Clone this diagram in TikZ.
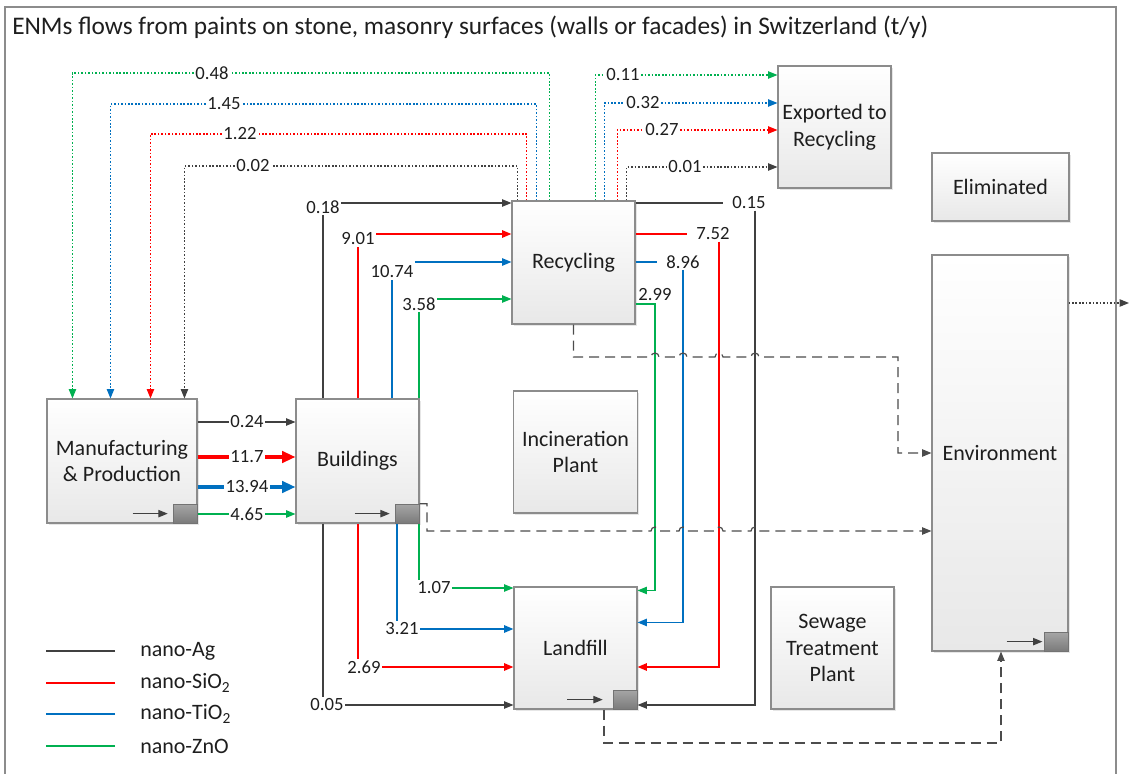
\documentclass[tikz,border=0pt]{standalone}
\usepackage{fontspec}
\setmainfont{Carlito}
\usetikzlibrary{positioning}
\usetikzlibrary{arrows.meta,shadows}
\definecolor{agc}{HTML}{404040}
\definecolor{sic}{HTML}{FF0000}
\definecolor{tic}{HTML}{0070C0}
\definecolor{znc}{HTML}{00B050}
\definecolor{edgec}{HTML}{8C8C8C}
\definecolor{txtc}{HTML}{1E1E1E}
\tikzstyle{block} = [rectangle, draw=edgec, line width=0.8pt, top color=white, bottom color=black!9, align=center, text=txtc, font=\fontsize{16.5}{20}\selectfont, inner sep=0pt, drop shadow={shadow xshift=1.2pt, shadow yshift=-1.2pt, opacity=0.2}]
\tikzstyle{stock} = [rectangle, draw=black!55, line width=0.6pt, top color=black!35, bottom color=black!52, minimum width=18pt, minimum height=14.25pt, inner sep=0pt, anchor=south east]
\tikzstyle{val} = [font=\fontsize{14}{16}\selectfont, text=txtc, inner sep=1pt]
\tikzstyle{legtxt} = [font=\fontsize{16.5}{20}\selectfont, text=txtc, inner sep=0pt, anchor=west]
\tikzstyle{line} = [draw, line width=0.8pt]
\tikzstyle{arr} = [-{Triangle[length=7pt,width=5.5pt]}]
\tikzstyle{bigarr} = [-{Triangle[length=10pt,width=8.5pt]}]
\tikzstyle{agl} = [line, agc]
\tikzstyle{sil} = [line, sic]
\tikzstyle{til} = [line, tic]
\tikzstyle{znl} = [line, znc]
\tikzstyle{dotty} = [dash pattern=on 1.2pt off 1.4pt]
\tikzstyle{dsh} = [draw=black!70, line width=0.9pt, dash pattern=on 7.5pt off 4.5pt]

\begin{document}
\begin{tikzpicture}[x=0.75pt, y=-0.75pt]
    \useasboundingbox (0,0) rectangle (1129,774);
    \draw[black!45, line width=1pt] (5,7) rectangle (1116,800);
    \node[anchor=west, font=\fontsize{19}{22}\selectfont, text=txtc, inner sep=0pt] (title) at (12,27) {ENMs flows from paints on stone, masonry surfaces (walls or facades) in Switzerland (t/y)};

    % boxes
    \node[block, minimum width=112.5pt, minimum height=93pt] (mfg) at (122,461) {Manufacturing\\\& Production};
    \node[block, minimum width=92.25pt, minimum height=93pt] (bld) at (357.5,461) {Buildings};
    \node[block, minimum width=92.25pt, minimum height=92.25pt] (rec) at (573.5,262.5) {Recycling};
    \node[block, minimum width=93pt, minimum height=91.5pt] (inc) at (575.5,452) {Incineration\\Plant};
    \node[block, minimum width=92.25pt, minimum height=91.5pt] (lfl) at (575.5,648) {Landfill};
    \node[block, minimum width=92.25pt, minimum height=91.5pt] (swt) at (832.5,648) {Sewage\\Treatment\\Plant};
    \node[block, minimum width=84.75pt, minimum height=91.5pt] (exp) at (834.5,127) {Exported to\\Recycling};
    \node[block, minimum width=102.75pt, minimum height=51pt] (elim) at (1000.5,187) {Eliminated};
    \node[block, minimum width=102pt, minimum height=297pt] (env) at (1000,453) {Environment};

    % stocks
    \node[stock] (mfgsq) at (mfg.south east) {};
    \node[stock] (bldsq) at (bld.south east) {};
    \node[stock] (lflsq) at (lfl.south east) {};
    \node[stock] (envsq) at (env.south east) {};
    \draw[agl,arr] ([xshift=-30pt]mfgsq.west) -- ([xshift=-3.75pt]mfgsq.west);
    \draw[agl,arr] ([xshift=-30pt]bldsq.west) -- ([xshift=-3.75pt]bldsq.west);
    \draw[agl,arr] ([xshift=-34pt]lflsq.west) -- ([xshift=-7.5pt]lflsq.west);
    \draw[agl,arr] ([xshift=-27.75pt]envsq.west) -- ([xshift=-1pt]envsq.west);

    % manufacturing -> buildings
    \node[val] (l024) at (247,422) {0.24};
    \node[val] (l117) at (247,457) {11.7};
    \node[val] (l1394) at (247,487) {13.94};
    \node[val] (l465) at (247,514) {4.65};
    \draw[agl] (mfg.east |- l024) -- (l024);
    \draw[agl,arr] (l024) -- (bld.west |- l024);
    \draw[sil,line width=2.4pt] (mfg.east |- l117) -- (l117);
    \draw[sil,line width=2.4pt,bigarr] (l117) -- (bld.west |- l117);
    \draw[til,line width=2.4pt] (mfg.east |- l1394) -- (l1394);
    \draw[til,line width=2.4pt,bigarr] (l1394) -- (bld.west |- l1394);
    \draw[znl,line width=1.1pt] (mfg.east |- l465) -- (l465);
    \draw[znl,line width=1.1pt,arr] (l465) -- (bld.west |- l465);

    % recycling -> manufacturing
    \node[val] (l048) at (212,73) {0.48};
    \node[val] (l145) at (224,104) {1.45};
    \node[val] (l122) at (240,134) {1.22};
    \node[val] (l002) at (253,166) {0.02};
    \draw[znl,dotty] ([xshift=28.5pt]rec.north west) |- (l048);
    \draw[znl,dotty,arr] (l048) -| ([xshift=19.5pt]mfg.north west);
    \draw[til,dotty] ([xshift=18.75pt]rec.north west) |- (l145);
    \draw[til,dotty,arr] (l145) -| ([xshift=48pt]mfg.north west);
    \draw[sil,dotty] ([xshift=11.25pt]rec.north west) |- (l122);
    \draw[sil,dotty,arr] (l122) -| ([xshift=78pt]mfg.north west);
    \draw[agl,dotty] ([xshift=4.5pt]rec.north west) |- (l002);
    \draw[agl,dotty,arr] (l002) -| ([xshift=103.5pt]mfg.north west);

    % recycling -> exported
    \node[val] (l011) at (623,75) {0.11};
    \node[val] (l032) at (643,103) {0.32};
    \node[val] (l027) at (662,130) {0.27};
    \node[val] (l001) at (685,167) {0.01};
    \draw[znl,dotty] ([xshift=63pt]rec.north west) |- (l011);
    \draw[znl,dotty,arr] (l011) -- (exp.west |- l011);
    \draw[til,dotty] ([xshift=69.75pt]rec.north west) |- (l032);
    \draw[til,dotty,arr] (l032) -- (exp.west |- l032);
    \draw[sil,dotty] ([xshift=79.5pt]rec.north west) |- (l027);
    \draw[sil,dotty,arr] (l027) -- (exp.west |- l027);
    \draw[agl,dotty] ([xshift=86.25pt]rec.north west) |- (l001);
    \draw[agl,dotty,arr] (l001) -- (exp.west |- l001);

    % buildings -> recycling
    \coordinate (k018) at (323,203);
    \coordinate (k901) at (358,234);
    \coordinate (k1074) at (392,262);
    \coordinate (k358) at (419,299);
    \node[val,yshift=-3pt] (l018) at (k018) {0.18};
    \node[val,yshift=-3.75pt] (l901) at (k901) {9.01};
    \node[val,yshift=-7.5pt] (l1074) at (k1074) {10.74};
    \node[val,yshift=-3.75pt] (l358) at (k358) {3.58};
    \draw[agl] (bld.north -| k018) -- (l018.south -| k018);
    \draw[agl,arr] (l018.east |- k018) -- (rec.west |- k018);
    \draw[sil,line width=1.3pt] (bld.north -| k901) -- (l901.south -| k901);
    \draw[sil,line width=1.3pt,arr] (l901.east |- k901) -- (rec.west |- k901);
    \draw[til,line width=1.1pt] (bld.north -| k1074) -- (l1074.south -| k1074);
    \draw[til,line width=1.1pt,arr] (l1074.north east |- k1074) -- (rec.west |- k1074);
    \draw[znl] (bld.north -| k358) -- (l358.south -| k358);
    \draw[znl,arr] (l358.east |- k358) -- (rec.west |- k358);

    % buildings -> landfill
    \coordinate (k107) at (419,588);
    \coordinate (k321) at (397,629);
    \coordinate (k269) at (358,667);
    \coordinate (k005) at (323,705);
    \node[val,xshift=11.25pt] (l107) at (k107) {1.07};
    \node[val,xshift=3.75pt] (l321) at (k321) {3.21};
    \node[val,xshift=4.5pt] (l269) at (k269) {2.69};
    \node[val,xshift=3pt] (l005) at (k005) {0.05};
    \draw[znl] (bld.south -| k107) -- (l107.north -| k107);
    \draw[znl,arr] (l107.east) -- (lfl.west |- l107);
    \draw[til,line width=1.3pt] (bld.south -| k321) -- (l321.north -| k321);
    \draw[til,line width=1.3pt,arr] (l321.east) -- (lfl.west |- l321);
    \draw[sil,line width=1.3pt] (bld.south -| k269) -- (l269.north -| k269);
    \draw[sil,line width=1.3pt,arr] (l269.east) -- (lfl.west |- l269);
    \draw[agl] (bld.south -| k005) -- (l005.north -| k005);
    \draw[agl,arr] (l005.east) -- (lfl.west |- l005);

    % recycling -> landfill
    \coordinate (k015) at (755,203);
    \coordinate (k752) at (719,234);
    \coordinate (k896) at (683,262);
    \coordinate (k299) at (655,304);
    \node[val,xshift=-4.5pt] (l015) at (k015) {0.15};
    \node[val,xshift=-4.5pt] (l752) at (k752) {7.52};
    \node[val] (l896) at (k896) {8.96};
    \node[val,yshift=6.75pt] (l299) at (k299) {2.99};
    \draw[agl] (rec.east |- k015) -- ([xshift=-6pt]l015.west);
    \draw[agl,arr] (l015.south -| k015) |- (lfl.east |- k005);
    \draw[sil,line width=1.3pt] (rec.east |- k752) -- ([xshift=-6pt]l752.west);
    \draw[sil,line width=1.3pt,arr] (l752.south -| k752) |- (lfl.east |- k269);
    \draw[til,line width=1.1pt] (rec.east |- k896) -- ([xshift=-6pt]l896.west);
    \draw[til,line width=1.1pt,arr] (l896.south -| k896) |- ([yshift=-27pt]lfl.north east);
    \draw[znl,arr] (rec.east |- k299) -- (k299) |- ([yshift=-3pt]lfl.north east);

    % transfers to the environment
    \coordinate (du) at (898,357);
    \coordinate (dl) at (427,531);
    \coordinate (dd) at (1001,743);
    \coordinate (eout) at (1129,303);
    \draw[dsh,arr] (rec.south) -- (rec.south |- du) -- (651,357) arc[start angle=180, end angle=0, radius=3pt]
        -- (679,357) arc[start angle=180, end angle=0, radius=3pt]
        -- (715,357) arc[start angle=180, end angle=0, radius=3pt]
        -- (751,357) arc[start angle=180, end angle=0, radius=3pt]
        -- (du) |- (env.west);
    \draw[dsh,arr] (bldsq.north east) -| (dl) -- (651,531) arc[start angle=180, end angle=0, radius=3pt]
        -- (679,531) arc[start angle=180, end angle=0, radius=3pt]
        -- (715,531) arc[start angle=180, end angle=0, radius=3pt]
        -- (751,531) arc[start angle=180, end angle=0, radius=3pt]
        -- (env.west |- dl);
    \draw[dsh,arr] ([xshift=21.4pt]lfl.south) |- (dd) -- (env.south -| dd);
    \draw[agl,dotty,arr] (env.east |- eout) -- (eout);

    % legend
    \node[legtxt] (leg1) at (140,651) {nano-Ag};
    \node[legtxt] (leg2) at (140,683) {nano-SiO\textsubscript{2}};
    \node[legtxt] (leg3) at (140,714) {nano-TiO\textsubscript{2}};
    \node[legtxt] (leg4) at (140,746) {nano-ZnO};
    \draw[agl,line width=1.5pt] ([xshift=-18.75pt]leg1.west) -- ++(-51.75pt,0);
    \draw[sil,line width=1.5pt] ([xshift=-18.75pt]leg2.west |- leg1.west) ++(0,-24pt) -- ++(-51.75pt,0);
    \draw[til,line width=1.5pt] ([xshift=-18.75pt]leg3.west |- leg1.west) ++(0,-47.25pt) -- ++(-51.75pt,0);
    \draw[znl,line width=1.5pt] ([xshift=-18.75pt]leg4.west) -- ++(-51.75pt,0);
\end{tikzpicture}
\end{document}
